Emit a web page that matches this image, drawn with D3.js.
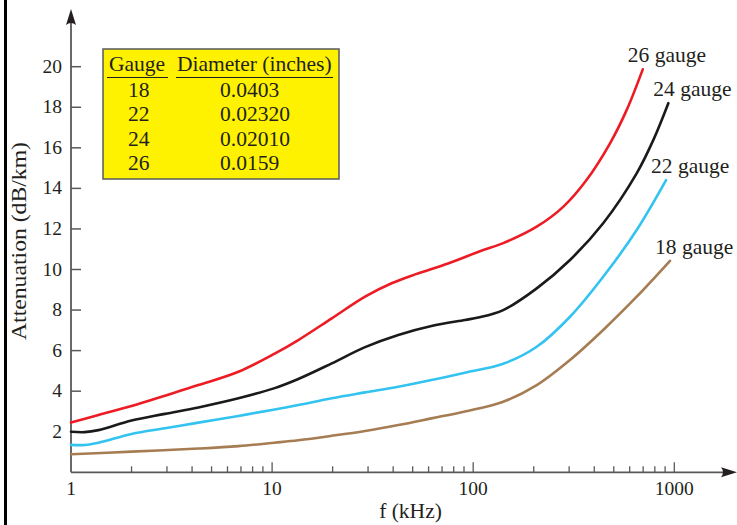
<!DOCTYPE html>
<html>
<head>
<meta charset="utf-8">
<script src="https://cdn.jsdelivr.net/npm/d3@7/dist/d3.min.js"></script>
<style>
  html, body { margin: 0; padding: 0; background: #ffffff; }
  svg { display: block; }
  text { font-family: "Liberation Serif", "Times New Roman", serif; fill: #231F20; }
</style>
</head>
<body>
<svg id="chart" width="737" height="525"></svg>
<script>
// ---------- data ----------
const gauges = ["26 gauge", "24 gauge", "22 gauge", "18 gauge"];

const freq26 = [1, 1.37, 2, 2.93, 4.3, 6.8, 10.3, 13.5, 19.8, 29, 39.3, 51.4, 75, 108, 141, 207, 281, 366, 479, 580, 697];
const atten26 = [2.45, 2.83, 3.27, 3.78, 4.30, 4.96, 5.85, 6.52, 7.59, 8.66, 9.32, 9.76, 10.3, 10.9, 11.3, 12.11, 13.1, 14.41, 16.22, 17.87, 19.87];

const freq24 = [1, 1.17, 1.37, 2, 2.93, 4.3, 6.8, 10.3, 13.5, 19.8, 29, 42.4, 62, 91, 106, 141, 207, 303, 443, 650, 787, 934];
const atten24 = [2.0, 1.98, 2.08, 2.55, 2.88, 3.2, 3.65, 4.15, 4.6, 5.37, 6.17, 6.77, 7.21, 7.51, 7.63, 8.0, 9.07, 10.47, 12.28, 14.74, 16.39, 18.2];

const freq22 = [1, 1.17, 1.37, 2, 2.93, 4.3, 6.8, 10.3, 13.5, 19.8, 29, 42.4, 62, 91, 141, 207, 303, 443, 650, 910];
const atten22 = [1.35, 1.35, 1.46, 1.89, 2.17, 2.45, 2.78, 3.1, 3.32, 3.65, 3.94, 4.22, 4.55, 4.91, 5.35, 6.19, 7.67, 9.64, 11.95, 14.41];

const freq18 = [1, 2, 4.3, 6.8, 10.3, 13.5, 19.8, 29, 42.4, 62, 91, 141, 207, 303, 443, 650, 952];
const atten18 = [0.89, 1.02, 1.17, 1.29, 1.46, 1.58, 1.80, 2.04, 2.33, 2.66, 3.0, 3.48, 4.3, 5.54, 7.02, 8.66, 10.43];

const seriesColors = ["#ED1C24", "#1A1A1A", "#33C3F0", "#A67C52"];

const xTickValues = [1, 10, 100, 1000];
const xTickLabels = ["1", "10", "100", "1000"];
const yTickValues = [2, 4, 6, 8, 10, 12, 14, 16, 18, 20];

const tableHeader = ["Gauge", "Diameter (inches)"];
const tableGauge = ["18", "22", "24", "26"];
const tableDiameter = ["0.0403", "0.02320", "0.02010", "0.0159"];

const xTitle = "f (kHz)";
const yTitle = "Attenuation (dB/km)";

// ---------- build ----------
const series = [
  { name: gauges[0], f: freq26, v: atten26, color: seriesColors[0] },
  { name: gauges[1], f: freq24, v: atten24, color: seriesColors[1] },
  { name: gauges[2], f: freq22, v: atten22, color: seriesColors[2] },
  { name: gauges[3], f: freq18, v: atten18, color: seriesColors[3] }
];

const svg = d3.select("#chart");
const axisColor = "#58595B";

const x = d3.scaleLog().domain([1, 1000]).range([71, 674.3]);
const y = d3.scaleLinear().domain([0, 20]).range([472.3, 66.7]);

// left page border
svg.append("rect").attr("x", 4).attr("y", 0).attr("width", 3).attr("height", 525).attr("fill", "#000");

// axes lines
const x0 = x(1), y0 = y(0);
svg.append("line").attr("x1", x0).attr("y1", y0).attr("x2", 731).attr("y2", y0)
  .attr("stroke", axisColor).attr("stroke-width", 1.8);
svg.append("line").attr("x1", x0).attr("y1", y0).attr("x2", x0).attr("y2", 18)
  .attr("stroke", axisColor).attr("stroke-width", 1.8);

// arrowheads
svg.append("path")
  .attr("d", `M${x0},9 L${x0 + 5},25 Q${x0},21 ${x0 - 5},25 Z`)
  .attr("fill", "#231F20");
svg.append("path")
  .attr("d", `M737,${y0} L721,${y0 - 5} Q725,${y0} 721,${y0 + 5} Z`)
  .attr("fill", "#231F20");

// x ticks (minor + major), drawn upward
const allXTicks = x.ticks();
svg.append("g").selectAll("line").data(allXTicks.filter(d => d > 1)).join("line")
  .attr("x1", d => x(d)).attr("x2", d => x(d))
  .attr("y1", y0)
  .attr("y2", d => xTickValues.includes(d) ? y0 - 10 : y0 - 6)
  .attr("stroke", axisColor).attr("stroke-width", 1.3);

svg.append("g").selectAll("text").data(xTickValues).join("text")
  .attr("x", d => x(d)).attr("y", 495)
  .attr("text-anchor", "middle").attr("font-size", 19.5)
  .text((d, i) => xTickLabels[i]);

// y ticks (inward)
svg.append("g").selectAll("line").data(yTickValues).join("line")
  .attr("x1", x0).attr("x2", x0 + 10)
  .attr("y1", d => y(d)).attr("y2", d => y(d))
  .attr("stroke", axisColor).attr("stroke-width", 1.5);

svg.append("g").selectAll("text").data(yTickValues).join("text")
  .attr("x", 62).attr("y", d => y(d) + 6)
  .attr("text-anchor", "end").attr("font-size", 19.5)
  .text(d => d);

// axis titles
svg.append("text").attr("x", 410.5).attr("y", 518)
  .attr("text-anchor", "middle").attr("font-size", 21.5).text(xTitle);
svg.append("text")
  .attr("transform", "translate(26,241) rotate(-90)")
  .attr("text-anchor", "middle").attr("font-size", 22)
  .attr("textLength", 198).attr("lengthAdjust", "spacingAndGlyphs")
  .text(yTitle);

// curves
const line = d3.line()
  .x(d => x(d[0])).y(d => y(d[1]))
  .curve(d3.curveCatmullRom.alpha(0.5));

svg.append("g").selectAll("path").data(series).join("path")
  .attr("d", s => line(s.f.map((f, i) => [f, s.v[i]])))
  .attr("fill", "none")
  .attr("stroke", s => s.color)
  .attr("stroke-width", 2.6)
  .attr("stroke-linecap", "round");

// curve labels
svg.append("g").selectAll("text").data(series).join("text")
  .attr("x", s => x(s.f[s.f.length - 1]) - 15)
  .attr("y", s => y(s.v[s.v.length - 1]) - 7)
  .attr("font-size", 21.5)
  .text(s => s.name);

// table legend
const tbl = svg.append("g");
tbl.append("rect").attr("x", 103).attr("y", 49).attr("width", 236).attr("height", 130)
  .attr("fill", "#FFF200").attr("stroke", "#58595B").attr("stroke-width", 1.5);
tbl.append("text").attr("x", 109).attr("y", 71).attr("font-size", 21.5).text(tableHeader[0]);
tbl.append("text").attr("x", 177).attr("y", 71).attr("font-size", 21.5).text(tableHeader[1]);
tbl.append("line").attr("x1", 107).attr("x2", 168).attr("y1", 77.5).attr("y2", 77.5)
  .attr("stroke", "#231F20").attr("stroke-width", 1.2);
tbl.append("line").attr("x1", 176).attr("x2", 333).attr("y1", 77.5).attr("y2", 77.5)
  .attr("stroke", "#231F20").attr("stroke-width", 1.2);
const rowY = [96.5, 121, 146, 170];
tbl.selectAll("text.g").data(tableGauge).join("text").attr("class", "g")
  .attr("x", 128).attr("y", (d, i) => rowY[i]).attr("font-size", 21.5).text(d => d);
tbl.selectAll("text.d").data(tableDiameter).join("text").attr("class", "d")
  .attr("x", 220).attr("y", (d, i) => rowY[i]).attr("font-size", 21.5).text(d => d);
</script>
</body>
</html>
